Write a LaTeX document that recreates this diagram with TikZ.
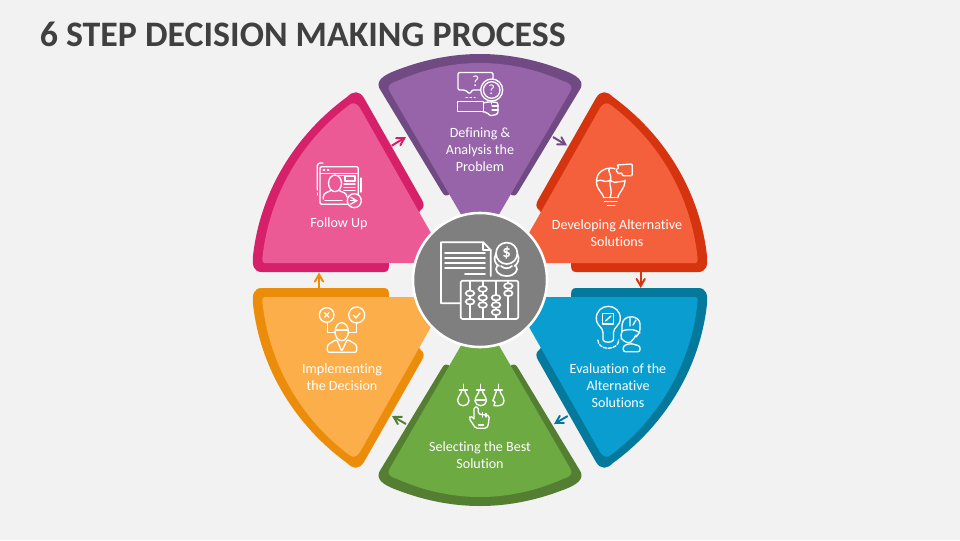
\documentclass[tikz,border=0pt]{standalone}
\usepackage{fontspec}
\setmainfont{Carlito}[Ligatures=NoCommon]
\usetikzlibrary{arrows,positioning,calc}
\definecolor{backgrey}{HTML}{F2F2F2}
\definecolor{titlegrey}{HTML}{404040}
\definecolor{coregrey}{HTML}{7F7F7F}
\definecolor{purplelight}{HTML}{9864A9}
\definecolor{purpledark}{HTML}{714A84}
\definecolor{pinklight}{HTML}{EC5A96}
\definecolor{pinkdark}{HTML}{D62069}
\definecolor{redlight}{HTML}{F5603C}
\definecolor{reddark}{HTML}{D5340F}
\definecolor{bluelight}{HTML}{099ECF}
\definecolor{bluedark}{HTML}{05799C}
\definecolor{greenlight}{HTML}{6DAA42}
\definecolor{greendark}{HTML}{547F32}
\definecolor{orangelight}{HTML}{FBAE49}
\definecolor{orangedark}{HTML}{EC8C0B}
\newcommand{\toppetaldark}{(-99,-189) -- (-38,-88) .. controls (-36,-84) and (-33,-83) .. (-29,-87) -- (29,-87) .. controls (33,-83) and (36,-84) .. (38,-88) -- (99,-189) .. controls (104,-196) and (102,-202) .. (88,-208) .. controls (29,-232) and (-29,-232) .. (-88,-208) .. controls (-102,-202) and (-104,-196) .. (-99,-189) -- cycle}
\newcommand{\toppetallight}{(-90,-188) -- (-10,-50) -- (10,-50) -- (90,-188) .. controls (93,-193) and (92,-196) .. (83,-199) .. controls (28,-223) and (-28,-223) .. (-83,-199) .. controls (-92,-196) and (-93,-193) .. (-90,-188) -- cycle}
\newcommand{\sidepetaldark}{(-218,-8) -- (-96,-8) .. controls (-91,-8) and (-91,-12) .. (-91,-17) -- (-60,-69) .. controls (-55,-73) and (-56,-76) .. (-58,-80) -- (-116,-182) .. controls (-121,-190) and (-127,-189) .. (-133,-183) .. controls (-185,-145) and (-220,-88) .. (-227,-24) .. controls (-228,-14) and (-226,-8) .. (-218,-8) -- cycle}
\newcommand{\sidepetallight}{(-215,-17) -- (-32,-17) -- (-120,-172) .. controls (-124,-178) and (-128,-178) .. (-132,-174) .. controls (-179,-138.5) and (-209.7,-85) .. (-217,-27) .. controls (-218,-20) and (-218,-17) .. (-215,-17) -- cycle}
\tikzset{
  steplabel/.style={text=white,align=center,inner sep=0pt,font=\fontsize{10}{12}\selectfont},
  steparrow/.style={->,>=angle 60,line width=1.4pt},
  iconline/.style={draw=white,line width=0.95pt,line join=round,line cap=round}
}
\begin{document}
\begin{tikzpicture}[x=0.025cm,y=-0.025cm]
  \fill[backgrey] (0,0) rectangle (960,540);
  \useasboundingbox (0,0) rectangle (960,540);
  \node[anchor=west,inner sep=0pt,text=titlegrey,font=\fontsize{25.5}{30}\selectfont\bfseries] (title) at (39.5,34) {6 STEP DECISION MAKING PROCESS};
  \begin{scope}[shift={(480,280)}]
    \fill[purpledark] \toppetaldark;
    \fill[purplelight] \toppetallight;
    \fill[greendark,yscale=-1] \toppetaldark;
    \fill[greenlight,yscale=-1] \toppetallight;
    \fill[pinkdark] \sidepetaldark;
    \fill[pinklight] \sidepetallight;
    \fill[orangedark,yscale=-1] \sidepetaldark;
    \fill[orangelight,yscale=-1] \sidepetallight;
    \fill[reddark,xscale=-1] \sidepetaldark;
    \fill[redlight,xscale=-1] \sidepetallight;
    \fill[bluedark,xscale=-1,yscale=-1] \sidepetaldark;
    \fill[bluelight,xscale=-1,yscale=-1] \sidepetallight;
  \end{scope}
  \node[circle,draw=white,fill=coregrey,line width=1.8pt,minimum size=3.35cm] (core) at (480,280) {};
  \coordinate (pinkout) at (391.7,145.7);
  \coordinate (purplein) at (406,137);
  \coordinate (purpleout) at (553,137);
  \coordinate (redin) at (567,145.5);
  \coordinate (redout) at (640.7,272);
  \coordinate (bluein) at (640.7,288);
  \coordinate (blueout) at (567.7,416);
  \coordinate (greenin) at (554,424);
  \coordinate (greenout) at (406,424);
  \coordinate (orangein) at (392,416);
  \coordinate (orangeout) at (319,288);
  \coordinate (pinkin) at (319,272.5);
  \draw[steparrow,pinkdark] (pinkout) -- (purplein);
  \draw[steparrow,purpledark] (purpleout) -- (redin);
  \draw[steparrow,reddark] (redout) -- (bluein);
  \draw[steparrow,bluedark] (blueout) -- (greenin);
  \draw[steparrow,greendark] (greenout) -- (orangein);
  \draw[steparrow,orangedark] (orangeout) -- (pinkin);
  \node[steplabel] (purpletext) at (480,150) {Defining \&\\Analysis the\\Problem};
  \node[steplabel] (pinktext) at (339,224) {Follow Up};
  \node[steplabel] (redtext) at (617,233) {Developing Alternative\\Solutions};
  \node[steplabel] (bluetext) at (618,385.5) {Evaluation of the\\Alternative\\Solutions};
  \node[steplabel] (orangetext) at (342,377) {Implementing\\the Decision};
  \node[steplabel] (greentext) at (480,455) {Selecting the Best\\Solution};

  \draw[iconline,rounded corners=1] (480,90) -- (472,90) -- (470,94) -- (465,90) -- (458,90) -- (458,72.5) -- (493,72.5) -- (493,79);
  \node[text=white,inner sep=0pt,font=\fontsize{11}{11}\selectfont] (purplemark) at (475.7,81.7) {?};
  \draw[iconline,dotted] (466,97.3) -- (475,97.3);
  \draw[iconline] (491.7,90) circle (11);
  \draw[iconline] (491.7,90) circle (8.3);
  \node[text=white,inner sep=0pt,font=\fontsize{10}{10}\selectfont] (purplelens) at (491.7,90) {?};
  \draw[iconline] (491.7,101) -- (491.7,104);
  \draw[iconline] (457.7,101.7) rectangle (483.3,111.7);
  \draw[iconline,rounded corners=1.5] (483.3,103) -- (489,101.7) -- (498,102.5) -- (498,114) -- (490,116) -- (487,112) -- (483.3,112);
  \draw[iconline] (492,106) -- (498,106) (492,110) -- (498,110);

  \draw[iconline,rounded corners=1] (320,166.7) rectangle (358.3,204.3);
  \draw[iconline] (320,173.3) -- (358.3,173.3);
  \draw[iconline,dotted] (323.3,170) -- (330,170);
  \draw[iconline,rounded corners=2] (323,163) -- (317.3,163) -- (317.3,190);
  \draw[iconline] (317.3,193) -- (317.3,195);
  \draw[iconline] (361,178) -- (361,192);
  \draw[iconline] (335,183.3) ellipse (6.5 and 8.3);
  \draw[iconline,rounded corners=2] (323.3,199) -- (323.3,194) -- (331,190.5) (339,190.5) -- (347,194) -- (347,197);
  \draw[iconline] (338,175.5) -- (345,175.5);
  \draw[iconline] (345,176) rectangle (355,181);
  \draw[iconline] (344,184) -- (355,184) (344,187.3) -- (355,187.3) (344,190.7) -- (355,190.7);
  \draw[iconline] (325,200.5) -- (342,200.5);
  \draw[iconline,fill=pinklight] (354.3,200.7) circle (7);
  \draw[iconline,->,>=angle 60] (350.5,200.7) -- (358,200.7);

  \draw[iconline] (604,197.7) .. controls (602,192) and (596.4,189) .. (596.4,182) .. controls (596.4,172) and (604,168) .. (610.7,168) .. controls (612,168) and (614,168.3) .. (615,168.8);
  \draw[iconline] (625,180) .. controls (625,189) and (619,192) .. (617.5,197.7);
  \draw[iconline] (597,181) .. controls (602,178.5) and (604,183) .. (608,181) .. controls (612,179) and (613,184) .. (617,182) -- (625,181);
  \draw[iconline] (610,168) .. controls (606,171) and (613,174) .. (610,181) .. controls (609,186) and (613,190) .. (610,197.7);
  \draw[iconline] (603.5,197.7) -- (618,197.7) (604.5,201.7) -- (617,201.7) (607.5,205.7) -- (615,205.7);
  \draw[iconline,rounded corners=0.8] (619,167.7) -- (616.7,165) -- (632.3,164) -- (632.3,175.7) -- (622.3,175.7) -- (621.7,172.3) -- (619,174.3) -- (615.7,170) -- cycle;

  \draw[iconline] (603,332.5) .. controls (603,327) and (596.3,326) .. (596.3,318.3) .. controls (596.3,311) and (602,306.3) .. (608.3,306.3) .. controls (614.6,306.3) and (620.3,311) .. (620.3,318.3) .. controls (620.3,326) and (613.5,327) .. (613.5,332.5);
  \draw[iconline] (602.7,313.3) rectangle (613.5,324);
  \draw[iconline] (605.5,321) -- (611,316);
  \draw[iconline] (603,333) -- (603,340) .. controls (604,343) and (612,343) .. (613.5,340) -- (613.5,333);
  \draw[iconline,dash pattern=on 2.4pt off 1.1pt] (597.8,340) .. controls (598,351) and (618.5,351) .. (618.8,340);
  \draw[iconline,rounded corners=2] (622,332) -- (622,323) -- (625,318) -- (630,316.7) -- (635,317) -- (640,321) -- (640,332) -- (636,337);
  \draw[iconline] (622,331) .. controls (631,328) and (636,330) .. (640,333);
  \draw[iconline] (630,318) -- (630,326) (636,320) -- (633,325);
  \draw[iconline,rounded corners=1.5] (622,331) -- (620.5,337) -- (622,340) -- (629,343.3) -- (633,340) -- (636,335);
  \draw[iconline,rounded corners=1.5] (623.3,351.7) -- (623.3,346) -- (630,343.3) -- (640,346) -- (640,351.7) -- cycle;

  \foreach \bulbx in {463.3,480.7}{
    \draw[iconline] (\bulbx,384.3) -- (\bulbx,390);
    \draw[iconline] (\bulbx-4,390) -- (\bulbx+4,390);
    \draw[iconline] (\bulbx-1.5,390) .. controls (\bulbx-1.5,394) and (\bulbx-5.7,396) .. (\bulbx-5.7,401) .. controls (\bulbx-5.7,404) and (\bulbx-2.5,405.7) .. (\bulbx,405.7) .. controls (\bulbx+2.5,405.7) and (\bulbx+5.7,404) .. (\bulbx+5.7,401) .. controls (\bulbx+5.7,396) and (\bulbx+1.5,394) .. (\bulbx+1.5,390);
  }
  \draw[iconline] (498.3,384.3) -- (498.3,390);
  \draw[iconline] (494.3,390) -- (502.3,390);
  \draw[iconline] (496.8,390) .. controls (496.8,393) and (494,395) .. (494,398) -- (492.8,400.5) -- (495,402) -- (494,405.7) -- (499,405.7) .. controls (502,405.7) and (504,404) .. (504,401) .. controls (504,396) and (499.8,394) .. (499.8,390);
  \draw[iconline] (476.5,400) -- (485,400);
  \draw[iconline,rounded corners=1.2] (474,419) -- (474,407) -- (478.3,407) -- (478.3,414) -- (489.3,415.5) -- (488.3,425) -- (486.7,428.3) -- (475.7,428.3) -- (469,418.3) -- (470.7,415.7) -- (474,419);
  \draw[iconline] (482.5,412.5) -- (482.5,417) (486,413.5) -- (486,417);
  \draw[iconline] (478.5,425) -- (483.5,425);

  \draw[iconline] (326.7,315) circle (7.3);
  \draw[iconline] (324.5,312.8) -- (328.9,317.2) (328.9,312.8) -- (324.5,317.2);
  \draw[iconline] (356.7,315) circle (8);
  \draw[iconline] (353.7,315.5) -- (356,318) -- (360,313);
  \draw[iconline] (327.3,322.5) -- (327.3,332.7) -- (335,332.7);
  \draw[iconline] (356.7,323) -- (356.7,332.7) -- (348.3,332.7);
  \draw[iconline] (341.7,331.7) ellipse (6.7 and 9);
  \draw[iconline] (335.7,330) -- (348,330);
  \draw[iconline,rounded corners=1.5] (327.3,352.3) -- (327.3,345) -- (336.7,339.3) -- (341.7,351.5) -- (347.3,339.3) -- (356.7,345) -- (356.7,352.3) -- cycle;

  \draw[iconline,line width=1.2pt] (460,303.3) -- (441,303.3) -- (441,242.3) -- (483.3,242.3) -- (490.7,250) -- (490.7,276);
  \draw[iconline,line width=1.2pt] (483.3,242.3) -- (483.3,250) -- (490.7,250);
  \draw[iconline,line width=1.2pt] (445,252.7) -- (485,252.7) (445,257.7) -- (485,257.7) (445,263.3) -- (485,263.3) (445,268.3) -- (485,268.3) (465,274.3) -- (485,274.3);
  \draw[iconline,line width=1.2pt] (506.7,253.3) circle (10.7);
  \draw[iconline,line width=1.2pt] (496,254) .. controls (493,259) and (495,264) .. (499,266) (517.4,254) .. controls (520,259) and (518,264) .. (514.4,266);
  \draw[iconline,line width=1.2pt] (497,266) .. controls (494,270) and (498,276) .. (506.7,276) .. controls (515,276) and (519,270) .. (516,266);
  \draw[iconline,line width=1.2pt] (501,266) .. controls (504,269) and (509,269) .. (512,266);
  \node[text=white,inner sep=0pt,font=\fontsize{12}{12}\selectfont\bfseries] (coredollar) at (506.7,253.3) {\$};
  \draw[iconline,line width=1.2pt,rounded corners=1.5] (460.7,280.7) rectangle (518.3,319);
  \draw[iconline,line width=1.2pt] (470,280.7) -- (470,319) (482.7,280.7) -- (482.7,319) (496,280.7) -- (496,319) (508.3,280.7) -- (508.3,319);
  \foreach \beadx/\beady in {470/293.3,470/301.7,482.7/289,482.7/297.7,482.7/305,496/297.7,496/305,496/312.3,508.3/286,508.3/293.3}{
    \draw[iconline,line width=1.2pt,fill=coregrey] (\beadx,\beady) ellipse (4.3 and 2.8);
  }
\end{tikzpicture}
\end{document}
